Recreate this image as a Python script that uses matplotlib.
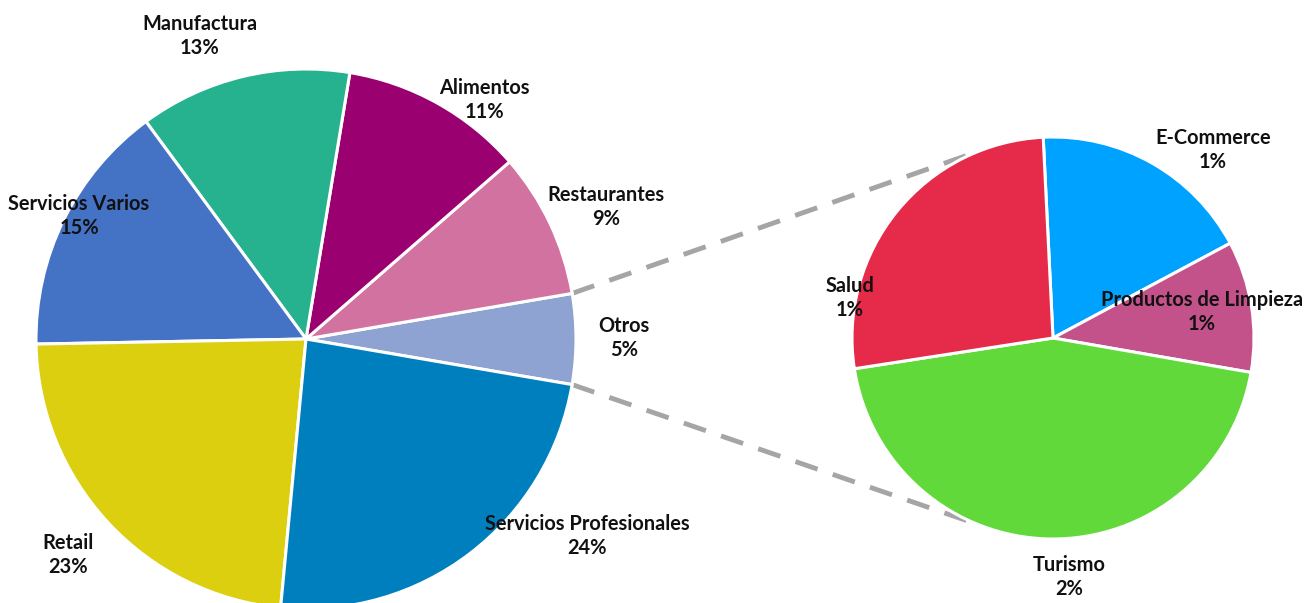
import matplotlib
matplotlib.use("Agg")
import matplotlib.pyplot as plt
import numpy as np

# ---- data ----
main_labels = ["Otros", "Restaurantes", "Alimentos", "Manufactura",
               "Servicios Varios", "Retail", "Servicios Profesionales"]
main_values = [5.4, 8.7, 11.0, 12.7, 15.2, 23.2, 23.8]
main_colors = ["#8FA3D3", "#D272A0", "#9B0070", "#27B28F",
               "#4472C4", "#DCCF0F", "#007FBE"]

sub_labels = ["E-Commerce", "Productos de Limpieza", "Turismo", "Salud"]
sub_values = [0.97, 0.57, 2.42, 1.44]
sub_colors = ["#00A2FF", "#C4528A", "#62D93A", "#E52A4A"]

# ---- layout (pixel coordinates, y up) ----
W, H = 1307, 603
main_center = (306, H - 339)
main_radius = 270
sub_center = (1053, H - 338)
sub_radius = 201
sub_start = 92.8

main_label_pos = [(624, 338), (606, 207), (484, 100), (200, 36),
                  (79, 216), (68, 555), (587, 536)]
sub_label_pos = [(1213, 150), (1202, 312), (1069, 577), (850, 298)]

plt.rcParams['font.family'] = ['Lato', 'DejaVu Sans']

fig = plt.figure(figsize=(W / 100, H / 100), dpi=100)
ax = fig.add_axes([0, 0, 1, 1])

start = -main_values[0] / sum(main_values) * 360 / 2
wedges, _ = ax.pie(main_values, colors=main_colors, center=main_center,
                   radius=main_radius, startangle=start, counterclock=True,
                   wedgeprops=dict(edgecolor='white', linewidth=2.2),
                   frame=True)
sw, _ = ax.pie(sub_values, colors=sub_colors, center=sub_center,
               radius=sub_radius, startangle=sub_start, counterclock=False,
               wedgeprops=dict(edgecolor='white', linewidth=2.2),
               frame=True)
ax.set_xlim(0, W)
ax.set_ylim(0, H)
ax.set_aspect('equal')
ax.axis('off')

# connector lines
ow = wedges[0]
for ang_main, ang_sub in [(ow.theta2, 112), (ow.theta1, -112)]:
    x0 = main_center[0] + main_radius * np.cos(np.radians(ang_main))
    y0 = main_center[1] + main_radius * np.sin(np.radians(ang_main))
    x1 = sub_center[0] + sub_radius * np.cos(np.radians(ang_sub))
    y1 = sub_center[1] + sub_radius * np.sin(np.radians(ang_sub))
    ax.plot([x0, x1], [y0, y1], color='#A5A5A5', lw=3.5,
            dashes=(4.8, 3.3), zorder=0, solid_capstyle='butt',
            dash_capstyle='butt')

total = sum(main_values)
for lab, v, (px, py) in zip(main_labels, main_values, main_label_pos):
    ax.text(px, H - py, f"{lab}\n{v / total * 100:.0f}%", ha='center',
            va='center', fontsize=14.4, fontweight='bold', color='#111111',
            linespacing=1.22, zorder=5)
for lab, v, (px, py) in zip(sub_labels, sub_values, sub_label_pos):
    ax.text(px, H - py, f"{lab}\n{v / total * 100:.0f}%", ha='center',
            va='center', fontsize=14.4, fontweight='bold', color='#111111',
            linespacing=1.22, zorder=5)

fig.savefig("out.png", dpi=100)
